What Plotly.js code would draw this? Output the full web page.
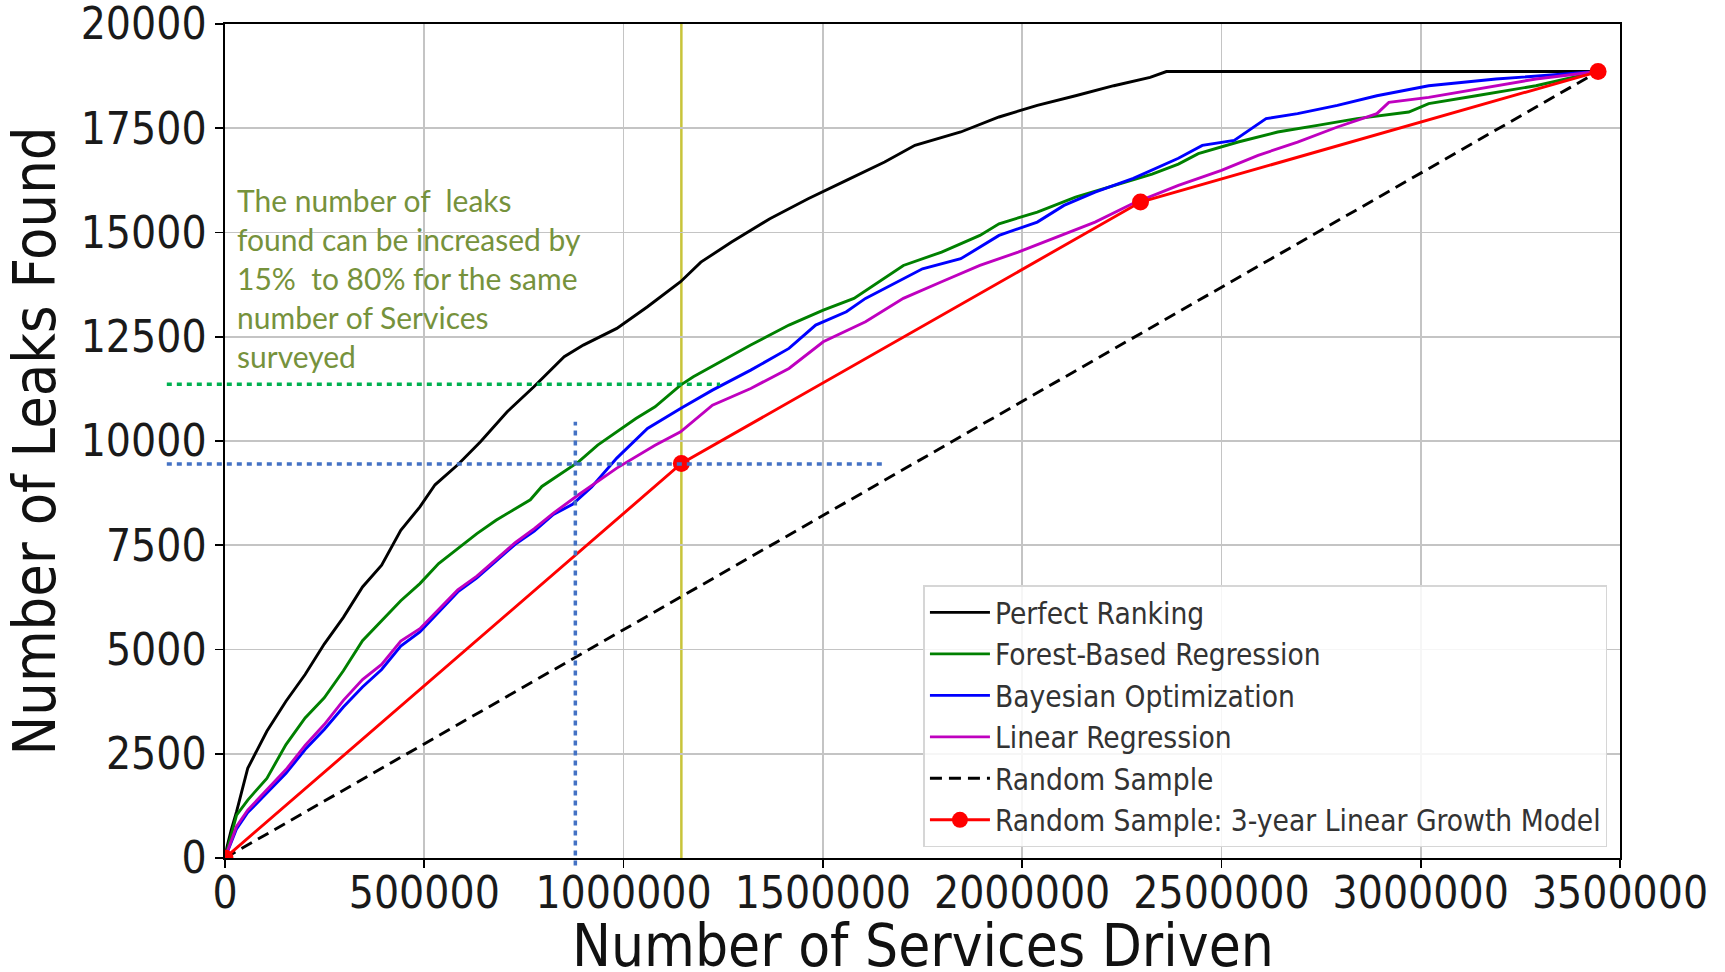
<!DOCTYPE html>
<html>
<head>
<meta charset="utf-8">
<script src="https://cdn.plot.ly/plotly-3.0.1.min.js"></script>
<style>
  html, body { margin: 0; padding: 0; background: #fff; }
  #chart { width: 1725px; height: 972px; }
</style>
</head>
<body>
<div id="chart"></div>
<script>
// ---------------- data ----------------
const seriesNames = [
  "Perfect Ranking",
  "Forest-Based Regression",
  "Bayesian Optimization",
  "Linear Regression",
  "Random Sample",
  "Random Sample: 3-year Linear Growth Model"
];

const xPerfect = [0, 5000, 15000, 29000, 57000, 105000, 153000, 201000, 249000, 297000, 345000, 393000, 441000, 489000, 527000, 584000, 641000, 708000, 775000, 851000, 899000, 983000, 1060000, 1143000, 1194000, 1271000, 1367000, 1463000, 1559000, 1655000, 1731000, 1846000, 1942000, 2038000, 2134000, 2230000, 2321000, 2362000, 3445000];
const yPerfect = [0, 260, 650, 1110, 2150, 3040, 3760, 4400, 5130, 5770, 6500, 7020, 7860, 8420, 8950, 9430, 9980, 10700, 11300, 12020, 12300, 12700, 13220, 13820, 14290, 14770, 15330, 15810, 16250, 16690, 17090, 17410, 17770, 18050, 18280, 18520, 18720, 18860, 18860];

const xForest = [0, 29000, 57000, 105000, 153000, 201000, 249000, 297000, 345000, 393000, 441000, 489000, 536000, 584000, 632000, 680000, 728000, 766000, 795000, 833000, 887000, 935000, 983000, 1031000, 1079000, 1143000, 1175000, 1242000, 1319000, 1415000, 1501000, 1578000, 1655000, 1702000, 1798000, 1894000, 1942000, 2038000, 2134000, 2230000, 2326000, 2392000, 2442000, 2542000, 2641000, 2741000, 2840000, 2970000, 3020000, 3139000, 3289000, 3445000];
const yForest = [0, 1030, 1390, 1910, 2720, 3360, 3840, 4490, 5210, 5690, 6170, 6580, 7060, 7420, 7780, 8100, 8380, 8590, 8910, 9150, 9500, 9900, 10220, 10540, 10820, 11340, 11540, 11900, 12300, 12780, 13140, 13420, 13900, 14210, 14530, 14930, 15210, 15490, 15850, 16130, 16400, 16640, 16890, 17170, 17410, 17570, 17730, 17890, 18090, 18280, 18520, 18860];

const xBayes = [0, 29000, 57000, 105000, 153000, 201000, 249000, 297000, 345000, 393000, 441000, 489000, 536000, 584000, 632000, 680000, 728000, 776000, 824000, 872000, 920000, 983000, 1060000, 1143000, 1223000, 1319000, 1415000, 1482000, 1559000, 1607000, 1702000, 1750000, 1846000, 1942000, 2038000, 2105000, 2183000, 2279000, 2392000, 2452000, 2532000, 2612000, 2691000, 2791000, 2890000, 3020000, 3189000, 3339000, 3445000];
const yBayes = [0, 700, 1090, 1560, 2030, 2600, 3080, 3620, 4100, 4520, 5080, 5420, 5900, 6380, 6720, 7120, 7520, 7840, 8240, 8480, 8900, 9590, 10300, 10780, 11220, 11700, 12220, 12780, 13100, 13420, 13900, 14130, 14370, 14930, 15250, 15650, 15970, 16300, 16780, 17090, 17210, 17730, 17850, 18050, 18280, 18520, 18680, 18780, 18860];

const xLinear = [0, 29000, 57000, 105000, 153000, 201000, 249000, 297000, 345000, 393000, 441000, 489000, 536000, 584000, 632000, 680000, 728000, 776000, 824000, 887000, 983000, 1079000, 1143000, 1223000, 1319000, 1415000, 1501000, 1607000, 1702000, 1798000, 1894000, 1990000, 2086000, 2183000, 2279000, 2392000, 2500000, 2592000, 2691000, 2791000, 2890000, 2920000, 3020000, 3139000, 3289000, 3445000];
const yLinear = [0, 760, 1150, 1640, 2120, 2700, 3200, 3780, 4280, 4640, 5200, 5500, 5960, 6430, 6760, 7160, 7560, 7900, 8270, 8710, 9350, 9900, 10220, 10860, 11260, 11740, 12380, 12860, 13420, 13820, 14210, 14530, 14890, 15250, 15700, 16130, 16490, 16850, 17170, 17530, 17850, 18120, 18240, 18440, 18680, 18860];

const xRandom = [0, 3445000];
const yRandom = [0, 18860];

const xGrowth = [0, 1145000, 2297000, 3445000];
const yGrowth = [0, 9460, 15730, 18860];

// overlay reference values (annotation marks drawn on the figure)
const yearOneServices = 1145000;        // vertical yellow line
const equalLeaksServices = 879000;      // blue dotted vertical
const equalLeaksTop = 10460;
const randomLeaksAtYearOne = 9450;      // blue dotted horizontal
const forestLeaksAtYearOne = 11360;     // green dotted horizontal
const dottedStartX = -146000;
const blueDottedEndX = 1654000;
const greenDottedEndX = 1242000;
const dottedBottomY = -180;

const xTickVals = [0, 500000, 1000000, 1500000, 2000000, 2500000, 3000000, 3500000];
const xTickText = ["0", "500000", "1000000", "1500000", "2000000", "2500000", "3000000", "3500000"];
const yTickVals = [0, 2500, 5000, 7500, 10000, 12500, 15000, 17500, 20000];
const yTickText = ["0", "2500", "5000", "7500", "10000", "12500", "15000", "17500", "20000"];

const xRange = [0, 3500000];
const yRange = [0, 20000];

const xTitle = "Number of Services Driven";
const yTitle = "Number of Leaks Found";
const noteText = "The number of  leaks<br>found can be increased by<br>15%  to 80% for the same<br>number of Services<br>surveyed";

// ---------------- chart ----------------
const tickFont = "DejaVu Sans Condensed, DejaVu Sans, sans-serif";
const lw = 2.9;

const traces = [
  {x: xPerfect, y: yPerfect, name: seriesNames[0], mode: "lines", line: {color: "#000000", width: lw}},
  {x: xForest, y: yForest, name: seriesNames[1], mode: "lines", line: {color: "#008000", width: lw}},
  {x: xBayes, y: yBayes, name: seriesNames[2], mode: "lines", line: {color: "#0000ff", width: lw}},
  {x: xLinear, y: yLinear, name: seriesNames[3], mode: "lines", line: {color: "#bf00bf", width: lw}},
  {x: xRandom, y: yRandom, name: seriesNames[4], mode: "lines", line: {color: "#000000", width: lw, dash: "12px,7px"}},
  {x: xGrowth, y: yGrowth, name: seriesNames[5], mode: "lines+markers", line: {color: "#ff0000", width: lw},
   marker: {color: "#ff0000", size: 17}}
];

function px(v) { return (v - xRange[0]) / (xRange[1] - xRange[0]); }
function py(v) { return (v - yRange[0]) / (yRange[1] - yRange[0]); }

const shapes = [
  {type: "line", xref: "paper", yref: "paper", x0: px(yearOneServices), x1: px(yearOneServices), y0: 0, y1: 1,
   line: {color: "#c8c43a", width: 2.5}, layer: "below"},
  {type: "line", xref: "paper", yref: "paper", x0: px(equalLeaksServices), x1: px(equalLeaksServices),
   y0: py(dottedBottomY), y1: py(equalLeaksTop), line: {color: "#4472c4", width: 3.5, dash: "5px,5px"}},
  {type: "line", xref: "paper", yref: "paper", x0: px(dottedStartX), x1: px(blueDottedEndX),
   y0: py(randomLeaksAtYearOne), y1: py(randomLeaksAtYearOne), line: {color: "#4472c4", width: 3.5, dash: "5px,5px"}},
  {type: "line", xref: "paper", yref: "paper", x0: px(dottedStartX), x1: px(greenDottedEndX),
   y0: py(forestLeaksAtYearOne), y1: py(forestLeaksAtYearOne), line: {color: "#00b050", width: 3.5, dash: "5px,5px"}}
];

const axisCommon = {
  showline: true, mirror: true, linecolor: "#000000", linewidth: 1.6,
  ticks: "outside", ticklen: 8, tickwidth: 1.6, tickcolor: "#000000",
  showgrid: true, gridcolor: "#c4c4c4", gridwidth: 1.6, zeroline: false,
  ticklabeloverflow: "allow",
  tickfont: {family: tickFont, size: 44, color: "#1a1a1a"}
};

const layout = {
  width: 1725, height: 972,
  margin: {l: 225, r: 105, t: 24, b: 114},
  paper_bgcolor: "#ffffff", plot_bgcolor: "#ffffff",
  showlegend: true,
  xaxis: Object.assign({}, axisCommon, {
    range: xRange, tickmode: "array", tickvals: xTickVals, ticktext: xTickText,
    ticklabelstandoff: -12
  }),
  yaxis: Object.assign({}, axisCommon, {
    range: yRange, tickmode: "array", tickvals: yTickVals, ticktext: yTickText,
    title: {text: yTitle, font: {family: tickFont, size: 59, color: "#111111"}, standoff: 6}
  }),
  legend: {
    x: 0.991, y: 0.013, xanchor: "right", yanchor: "bottom",
    bgcolor: "rgba(255,255,255,0.85)", bordercolor: "#d6d6d6", borderwidth: 1.5,
    font: {family: tickFont, size: 29.6, color: "#333333"},
    itemwidth: 60,
    tracegroupgap: 0
  },
  shapes: shapes,
  annotations: [
    {x: 24000, y: 16250, xref: "x", yref: "y", xanchor: "left", yanchor: "top", align: "left",
     text: noteText, showarrow: false, font: {family: "Lato, sans-serif", size: 30, color: "#76923c"}},
    {x: 0.5, y: -0.1055, xref: "paper", yref: "paper", xanchor: "center", yanchor: "middle",
     text: xTitle, showarrow: false, font: {family: tickFont, size: 58, color: "#111111"}}
  ]
};

Plotly.newPlot("chart", traces, layout, {displayModeBar: false, staticPlot: true});
</script>
</body>
</html>
